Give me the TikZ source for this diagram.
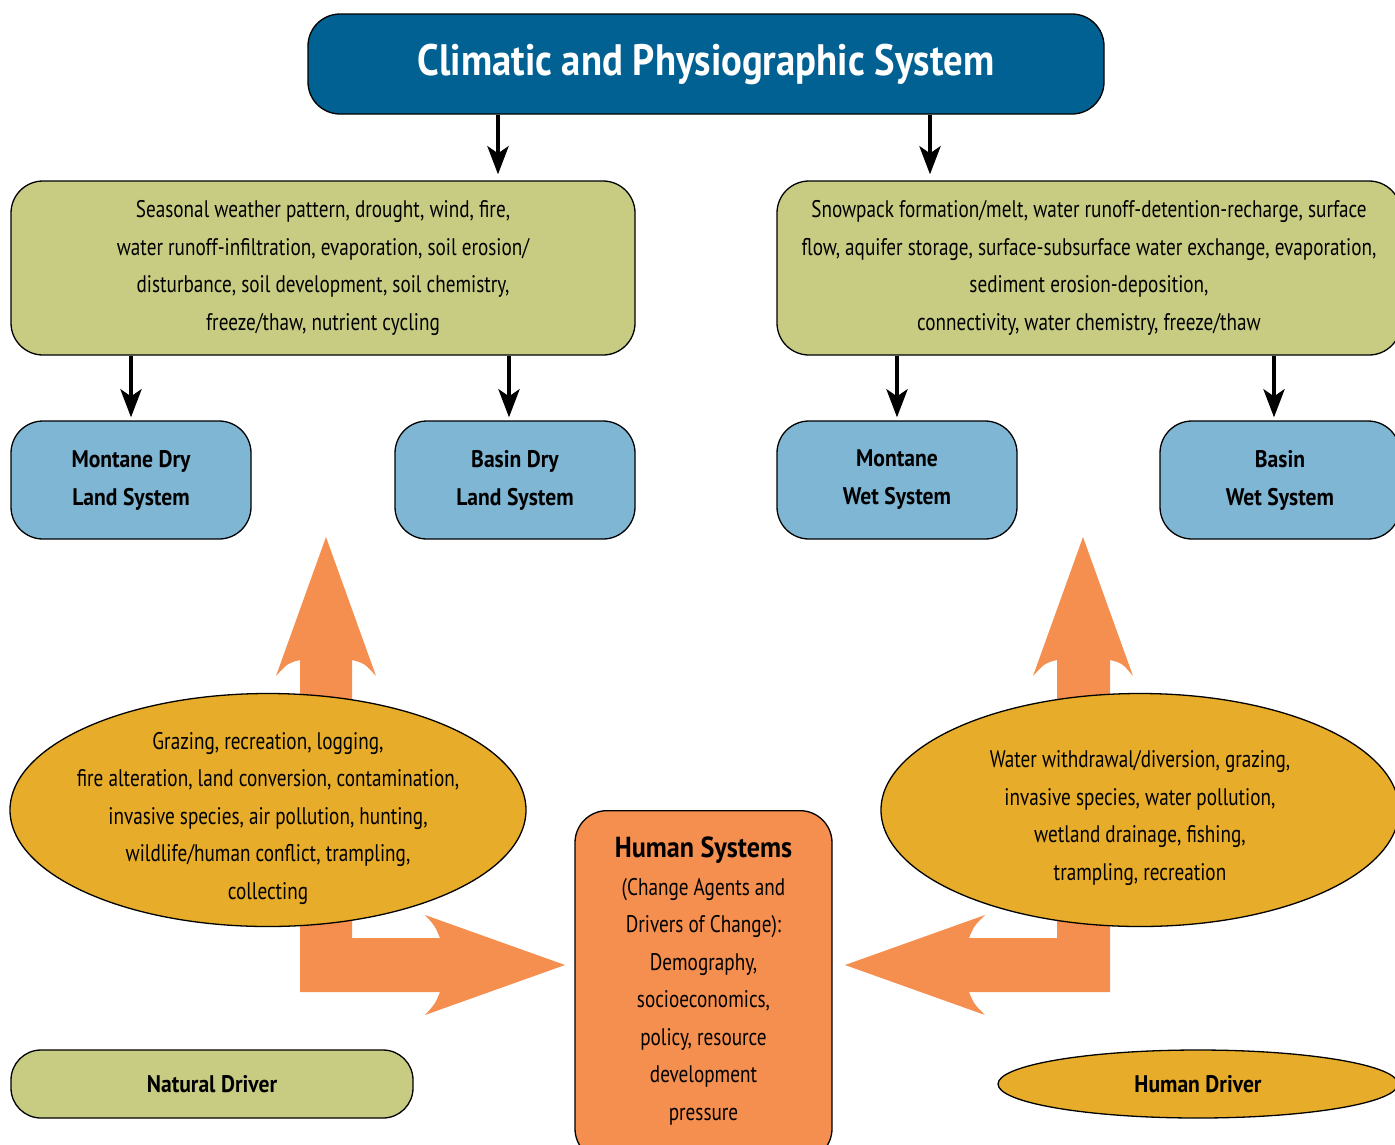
\documentclass[tikz,border=0pt]{standalone}
\usepackage{fontspec}
\setmainfont{PT Sans}[FakeStretch=0.8, BoldFeatures={FakeStretch=0.9}]
\newfontfamily\titlefont{PT Sans Bold}[FakeStretch=0.88]
\usetikzlibrary{arrows.meta,shapes.geometric}
\definecolor{titleblue}{HTML}{006192}
\definecolor{greenbox}{HTML}{C8CC82}
\definecolor{bluebox}{HTML}{7EB6D4}
\definecolor{goldell}{HTML}{E6AC2A}
\definecolor{orangec}{HTML}{F58F50}
\tikzset{
  box/.style={draw=black, line width=1.3pt, rectangle, rounded corners=32pt, align=center, inner sep=0pt},
  titlebox/.style={box, fill=titleblue, text=white, minimum width=796pt, minimum height=100pt,
    font=\titlefont\fontsize{44}{48}\selectfont},
  procbox/.style={box, fill=greenbox, font=\fontsize{24}{37.5}\selectfont},
  sysbox/.style={box, fill=bluebox, minimum width=240pt, minimum height=118pt,
    font=\bfseries\fontsize{24}{38}\selectfont},
  drvell/.style={draw=black, line width=1.3pt, ellipse, fill=goldell, inner sep=0pt},
  bodytext/.style={align=center, inner sep=0pt, font=\fontsize{24}{37.5}\selectfont},
  conn/.style={line width=4.5pt, -{Stealth[length=28pt,width=21pt,inset=7pt]}},
  fatarrow/.style={fill=orangec, draw=none},
}
\begin{document}
\begin{tikzpicture}[x=1pt,y=-1pt]
\useasboundingbox (0,0) rectangle (1395,1144);
% fat orange arrows (behind)
\fill[fatarrow] (326,537) -- (376,676) .. controls (364,663) .. (352,660) -- (352,938) -- (440,938)
  .. controls (435,926) .. (425,915) -- (565,965) -- (425,1015) .. controls (435,1004) .. (440,992)
  -- (300,992) -- (300,660) .. controls (288,663) .. (276,676) -- cycle;
\fill[fatarrow] (1083,537) -- (1133,676) .. controls (1122,663) .. (1110,660) -- (1110,992) -- (969,992)
  .. controls (974,1004) .. (985,1015) -- (845,965) -- (985,915) .. controls (974,926) .. (969,938)
  -- (1057,938) -- (1057,660) .. controls (1045,663) .. (1033,676) -- cycle;
% title
\node[titlebox] (title) at (706,64) {Climatic and Physiographic System};
% process boxes
\node[procbox, minimum width=624pt, minimum height=174pt] (lgreen) at (323,268)
  {Seasonal weather pattern, drought, wind, fire,\\
   water runoff-infiltration, evaporation, soil erosion/\\
   disturbance, soil development, soil chemistry,\\
   freeze/thaw, nutrient cycling};
\node[procbox, minimum width=624pt, minimum height=174pt] (rgreen) at (1089,268)
  {Snowpack formation/melt, water runoff-detention-recharge, surface\\
   flow, aquifer storage, surface-subsurface water exchange, evaporation,\\
   sediment erosion-deposition,\\
   connectivity, water chemistry, freeze/thaw};
% system boxes
\node[sysbox] (mdry) at (131,480) {Montane Dry\\Land System};
\node[sysbox] (bdry) at (515,480) {Basin Dry\\Land System};
\node[sysbox] (mwet) at (897,480) {Montane\\Wet System};
\node[sysbox] (bwet) at (1280,480) {Basin\\Wet System};
% connectors
\draw[conn] ([xshift=175pt]lgreen.north |- title.south) -- ([xshift=175pt,yshift=6pt]lgreen.north);
\draw[conn] ([xshift=-159pt]rgreen.north |- title.south) -- ([xshift=-159pt,yshift=6pt]rgreen.north);
\draw[conn] (mdry.north |- lgreen.south) -- ([yshift=3pt]mdry.north);
\draw[conn] ([xshift=-6pt]bdry.north |- lgreen.south) -- ([xshift=-6pt,yshift=3pt]bdry.north);
\draw[conn] (mwet.north |- rgreen.south) -- ([yshift=3pt]mwet.north);
\draw[conn] ([xshift=-6pt]bwet.north |- rgreen.south) -- ([xshift=-6pt,yshift=3pt]bwet.north);
% driver ellipses
\node[drvell, minimum width=516pt, minimum height=233pt] (lell) at (268,810) {};
\node[bodytext] (lelltext) at ([yshift=-8pt]lell.center)
  {Grazing, recreation, logging,\\
   fire alteration, land conversion, contamination,\\
   invasive species, air pollution, hunting,\\
   wildlife/human conflict, trampling,\\
   collecting};
\node[drvell, minimum width=518pt, minimum height=233pt] (rell) at (1140,810) {};
\node[bodytext] (relltext) at ([yshift=-8pt]rell.center)
  {Water withdrawal/diversion, grazing,\\
   invasive species, water pollution,\\
   wetland drainage, fishing,\\
   trampling, recreation};
% human systems
\node[box, fill=orangec, minimum width=257pt, minimum height=350pt, anchor=north] (human) at (703.5,810) {};
\node[bodytext] (humantext) at (703.5,981)
  {{\bfseries\fontsize{29}{37.5}\selectfont Human Systems}\\
   (Change Agents and\\
   Drivers of Change):\\
   Demography,\\
   socioeconomics,\\
   policy, resource\\
   development\\
   pressure};
% legend
\node[box, fill=greenbox, rounded corners=30pt, minimum width=402pt, minimum height=68pt,
  font=\bfseries\fontsize{24}{30}\selectfont] (natural) at (212,1084) {Natural Driver};
\node[drvell, minimum width=400pt, minimum height=68pt,
  font=\bfseries\fontsize{24}{30}\selectfont] (humandrv) at (1198,1084) {Human Driver};
\end{tikzpicture}
\end{document}
